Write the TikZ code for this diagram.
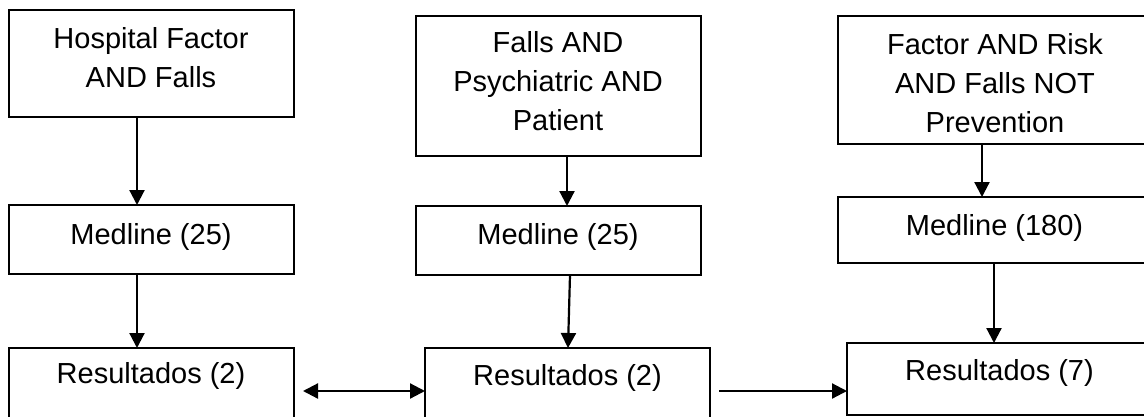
\documentclass[tikz,border=0pt]{standalone}
\usepackage{fontspec}
\setmainfont{Liberation Sans}
\usetikzlibrary{arrows.meta}
\tikzset{
  box/.style={draw=black, line width=2.2pt, inner sep=0pt, outer sep=0pt, fill=none},
  txt/.style={anchor=base, align=center, inner sep=0pt, font=\fontsize{29}{39}\selectfont},
  arr/.style={line width=2.2pt, -{Triangle[length=15pt,width=15pt]}},
  darr/.style={line width=2.2pt, {Triangle[length=15pt,width=15pt]}-{Triangle[length=15pt,width=15pt]}}
}
\begin{document}
\begin{tikzpicture}[x=1pt,y=-1pt]
\useasboundingbox (0,0) rectangle (1144,416);
\clip (0,0) rectangle (1144,416);
% boxes
\node[box, minimum width=285pt, minimum height=107pt] (h1) at (151.5,63.5) {};
\node[box, minimum width=285pt, minimum height=69pt] (m1) at (151.5,239.5) {};
\node[box, minimum width=285pt, minimum height=82pt] (r1) at (151.5,389) {};
\node[box, minimum width=285pt, minimum height=140pt] (h2) at (558.5,86) {};
\node[box, minimum width=285pt, minimum height=69pt] (m2) at (558.5,240.5) {};
\node[box, minimum width=285pt, minimum height=82pt] (r2) at (567.5,389) {};
\node[box, minimum width=312pt, minimum height=128pt] (h3) at (994,80) {};
\node[box, minimum width=312pt, minimum height=66pt] (m3) at (994,230) {};
\node[box, minimum width=303pt, minimum height=72pt] (r3) at (998.5,379) {};
% texts (base anchor = baseline of the last line)
\node[txt] (h1t) at (151,87) {Hospital Factor\\AND Falls};
\node[txt] (m1t) at (151,244) {Medline (25)};
\node[txt] (r1t) at (151,383) {Resultados (2)};
\node[txt] (h2t) at (558,130) {Falls AND\\Psychiatric AND\\Patient};
\node[txt] (m2t) at (558,244) {Medline (25)};
\node[txt] (r2t) at (567.5,385) {Resultados (2)};
\node[txt] (h3t) at (995,132) {Factor AND Risk\\AND Falls NOT\\Prevention};
\node[txt] (m3t) at (994.5,235) {Medline (180)};
\node[txt] (r3t) at (999.5,380) {Resultados (7)};
% vertical arrows
\draw[arr] ([xshift=-14.5pt]h1.south) -- ([xshift=-14.5pt]m1.north);
\draw[arr] ([xshift=-14.5pt]m1.south) -- ([xshift=-14.5pt]r1.north);
\draw[arr] ([xshift=8.5pt]h2.south) -- ([xshift=8.5pt]m2.north);
\draw[arr] ([xshift=11.5pt]m2.south) -- ([xshift=0.5pt]r2.north);
\draw[arr] ([xshift=-12pt]h3.south) -- ([xshift=-12pt]m3.north);
\draw[arr] (m3.south) -- ([xshift=-4.5pt]r3.north);
% horizontal arrows
\draw[darr] ([shift={(9,43)}]r1.north east) -- ([shift={(0,43)}]r2.north west);
\draw[arr] ([shift={(9,43)}]r2.north east) -- ([shift={(0,48)}]r3.north west);
\end{tikzpicture}
\end{document}
